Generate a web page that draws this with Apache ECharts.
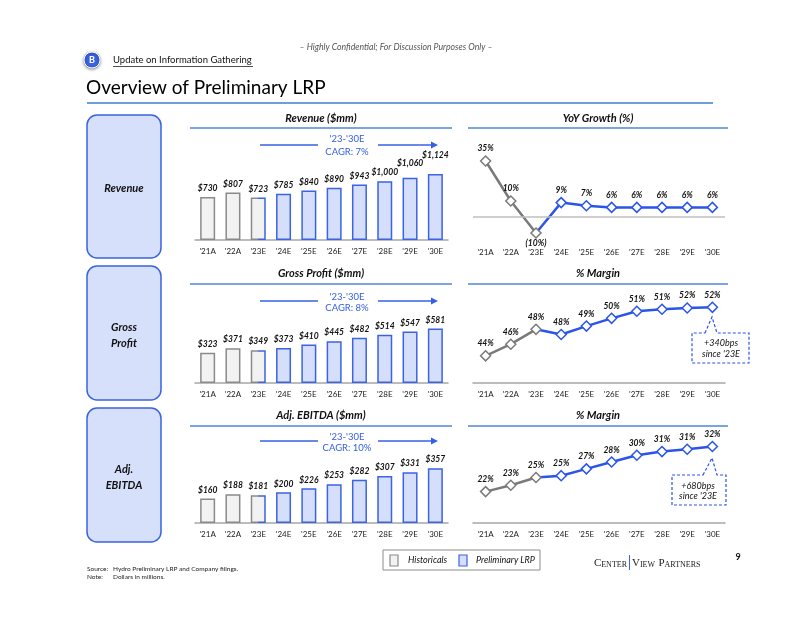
<!DOCTYPE html>
<html><head><meta charset="utf-8">
<script src="https://cdn.jsdelivr.net/npm/echarts@6/dist/echarts.min.js"></script>
<style>html,body{margin:0;padding:0;background:#fff}#c{width:800px;height:618px}</style>
</head><body><div id="c"></div>
<script>
const categories = ["'21A","'22A","'23E","'24E","'25E","'26E","'27E","'28E","'29E","'30E"];
const revenue = [730,807,723,785,840,890,943,1000,1060,1124];
const grossProfit = [323,371,349,373,410,445,482,514,547,581];
const adjEbitda = [160,188,181,200,226,253,282,307,331,357];
const yoyGrowth = [35,10,-10,9,7,6,6,6,6,6];
const grossMargin = [44.2,46.0,48.3,47.5,48.8,50.0,51.1,51.4,51.6,51.7];
const ebitdaMargin = [21.9,23.3,25.0,25.4,26.9,28.4,29.9,30.7,31.2,31.8];
const histCount = 3;
const cagrPeriod = "'23-'30E";
const cagrLabels = ["CAGR: 7%","CAGR: 8%","CAGR: 10%"];
const barTitles = ["Revenue ($mm)","Gross Profit ($mm)","Adj. EBITDA ($mm)"];
const lineTitles = ["YoY Growth (%)","% Margin","% Margin"];
const calloutTexts = [["+340bps","since '23E"],["+680bps","since '23E"]];

const F = 'Lato, "Open Sans", sans-serif';
const BLUE = '#2a55e8';
const BAR_BLUE = '#3b63e4';
const BAR_FILL = '#d5dffb';
const GRAY_B = '#8a8a8a';
const GRAY_F = '#f2f2f2';
const LINE_GRAY = '#7a7a7a';
const TXT = '#111';
const TITLE_LINE = '#4f86d9';

const chart = echarts.init(document.getElementById('c'));

// extra label lift (px) for crowded revenue labels, by panel and bar index
const labelLift = [{8:-6, 9:-10}, {}, {}];

const barPanels = [
  {vals: revenue, top:140, height:100, max:1700},
  {vals: grossProfit, top:289, height:94, max:1000},
  {vals: adjEbitda, top:431, height:92, max:600}
];
const linePanels = [
  {vals: yoyGrowth, top:153, height:88, min:-15, max:40, zero:true},
  {vals: grossMargin, top:286, height:97, min:40, max:55},
  {vals: ebitdaMargin, top:432, height:91, min:15, max:35}
];

const grids = [], xAxes = [], yAxes = [], series = [];
const axisLabel = {fontSize:8, color:'#222', fontFamily:F, margin:7};

function barStyle(k){
  if (k < histCount-1) return {color:GRAY_F, borderColor:GRAY_B, borderWidth:1.5};
  if (k === histCount-1) return {color:GRAY_F, borderWidth:1.5,
    borderColor: new echarts.graphic.LinearGradient(0,0,1,0,[
      {offset:0,color:GRAY_B},{offset:0.5,color:GRAY_B},{offset:0.5,color:BAR_BLUE},{offset:1,color:BAR_BLUE}])};
  return {color:BAR_FILL, borderColor:BAR_BLUE, borderWidth:1.5};
}

barPanels.forEach((p,i)=>{
  grids.push({left:195, width:253, top:p.top, height:p.height});
  xAxes.push({gridIndex:i, type:'category', data:categories, boundaryGap:true,
    axisLine:{show:true, lineStyle:{color:'#a6a6a6', width:1.5}}, axisTick:{show:false},
    axisLabel:axisLabel, splitLine:{show:false}});
  yAxes.push({gridIndex:i, type:'value', min:0, max:p.max, show:false, splitLine:{show:false}});
  series.push({type:'bar', xAxisIndex:i, yAxisIndex:i, barWidth:15,
    data: p.vals.map((v,k)=>{
      const d = {value:v, itemStyle:barStyle(k)};
      if (labelLift[i][k]) d.label = {offset:[0, labelLift[i][k]]};
      return d;
    }),
    label:{show:true, position:'top', distance:4, fontFamily:F, fontSize:8.5, fontWeight:'bold', fontStyle:'italic', color:TXT,
      formatter: q => '$' + q.value.toLocaleString('en-US')}});
});

linePanels.forEach((p,j)=>{
  const i = j + 3;
  grids.push({left:473, width:252, top:p.top, height:p.height});
  xAxes.push({gridIndex:i, type:'category', data:categories, boundaryGap:true,
    axisLine:{show:!p.zero, onZero:false, lineStyle:{color:'#a6a6a6', width:1.5}}, axisTick:{show:false},
    axisLabel:axisLabel, splitLine:{show:false}});
  yAxes.push({gridIndex:i, type:'value', min:p.min, max:p.max, show:false, splitLine:{show:false}});
  const fmt = q => { const v = q.value; return v < 0 ? '(' + Math.abs(Math.round(v)) + '%)' : Math.round(v) + '%'; };
  const lbl = {show:true, position:'top', distance:2, fontFamily:F, fontSize:8.5, fontWeight:'bold', fontStyle:'italic', color:TXT, formatter:fmt};
  const hist = p.vals.map((v,k)=> k < histCount ? (v < 0 ? {value:v, label:{position:'bottom', distance:0}} : v) : '-');
  const proj = p.vals.map((v,k)=> k < histCount-1 ? '-' : (k === histCount-1 ? {value:v, symbol:'none', label:{show:false}} : v));
  series.push({type:'line', xAxisIndex:i, yAxisIndex:i, z:2, data:proj, symbol:'diamond', symbolSize:10, showAllSymbol:true,
    lineStyle:{color:BLUE, width:2.5}, itemStyle:{color:'#fff', borderColor:BLUE, borderWidth:1.5}, label:lbl});
  const hs = {type:'line', xAxisIndex:i, yAxisIndex:i, z:3, data:hist, symbol:'diamond', symbolSize:10, showAllSymbol:true,
    lineStyle:{color:LINE_GRAY, width:2.5}, itemStyle:{color:'#fff', borderColor:LINE_GRAY, borderWidth:1.5}, label:lbl};
  if (p.zero) hs.markLine = {silent:true, symbol:['none','none'], label:{show:false},
    lineStyle:{color:'#bfbfbf', width:1.5, type:'solid'}, data:[{yAxis:0}]};
  series.push(hs);
});

// ---------- graphics ----------
const G = [];
function T(x,y,text,font,fill,align,extra){
  G.push(Object.assign({type:'text', x:x, y:y, z:20, silent:true,
    style:{text:text, font:font, fill:fill||TXT, textAlign:align||'left', textVerticalAlign:'middle'}}, extra||{}));
}
function L(x1,y1,x2,y2,stroke,w,dash){
  G.push({type:'line', z:20, silent:true, shape:{x1,y1,x2,y2}, style:{stroke, lineWidth:w||1, lineDash:dash||null}});
}

// header
T(396,47,'– Highly Confidential; For Discussion Purposes Only –','italic 8.7px '+F,'#555','center');
G.push({type:'circle', z:20, shape:{cx:92,cy:60,r:8}, style:{fill:'#3a63e0', stroke:'#fff', lineWidth:1, shadowBlur:3, shadowColor:'rgba(0,0,0,0.45)', shadowOffsetY:1}});
T(92,60,'B','bold 9px '+F,'#fff','center');
T(113,60,'Update on Information Gathering','9.5px '+F,TXT,'left');
L(113,66.5,253,66.5,'#222',0.8);
T(86,88,'Overview of Preliminary LRP','19px '+F,'#000','left');
L(87,103,713,103,'#6e9fd6',2);

// left boxes
const boxes = [
  {y:115, h:143, lines:['Revenue']},
  {y:266, h:134, lines:['Gross','Profit']},
  {y:408, h:134, lines:['Adj.','EBITDA']}
];
boxes.forEach(b=>{
  G.push({type:'rect', z:10, shape:{x:87, y:b.y, width:74, height:b.h, r:10}, style:{fill:'#d6e0fb', stroke:'#3a63e0', lineWidth:1.5}});
  const cy = b.y + b.h/2 + 2;
  if (b.lines.length === 1) T(124, cy, b.lines[0], 'italic bold 11px '+F, TXT, 'center');
  else { T(124, cy-8, b.lines[0], 'italic bold 11px '+F, TXT, 'center'); T(124, cy+8, b.lines[1], 'italic bold 11px '+F, TXT, 'center'); }
});

// panel titles
const titleY = [118, 273, 415];
const lineY = [128, 284, 426];
const cagrY = [[139,152,145],[297,308,301],[437,448,441]];
for (let i=0;i<3;i++){
  T(321, titleY[i], barTitles[i], 'italic bold 11px '+F, TXT, 'center');
  T(598, titleY[i], lineTitles[i], 'italic bold 11px '+F, TXT, 'center');
  L(190, lineY[i], 452, lineY[i], TITLE_LINE, 1.5);
  L(468, lineY[i], 728, lineY[i], TITLE_LINE, 1.5);
  T(347, cagrY[i][0], cagrPeriod, '9.5px '+F, '#3660e3', 'center');
  T(347, cagrY[i][1], cagrLabels[i], '9.5px '+F, '#3660e3', 'center');
  L(260, cagrY[i][2], 318, cagrY[i][2], '#3660e3', 1.5);
  L(378, cagrY[i][2], 432, cagrY[i][2], '#3660e3', 1.5);
  G.push({type:'polygon', z:20, shape:{points:[[431,cagrY[i][2]-3.5],[438,cagrY[i][2]],[431,cagrY[i][2]+3.5]]}, style:{fill:'#3660e3'}});
}

// callouts
const callouts = [
  {x1:692, x2:749, y1:333, y2:363, bx1:705, bx2:717, ax:712, ay:317, tx:721, t1:343, t2:354},
  {x1:672, x2:726, y1:475, y2:505, bx1:703, bx2:717, ax:712, ay:458, tx:698, t1:486, t2:496}
];
callouts.forEach((c,k)=>{
  G.push({type:'polygon', z:15, shape:{points:[[c.bx1,c.y1],[c.ax,c.ay],[c.bx2,c.y1],[c.x2,c.y1],[c.x2,c.y2],[c.x1,c.y2],[c.x1,c.y1]]},
    style:{fill:'#fff', stroke:BLUE, lineWidth:1.2, lineDash:[3,2]}});
  T(c.tx, c.t1, calloutTexts[k][0], 'italic 9px '+F, TXT, 'center');
  T(c.tx, c.t2, calloutTexts[k][1], 'italic 9px '+F, TXT, 'center');
});

// legend
G.push({type:'rect', z:10, shape:{x:383, y:550, width:157, height:20}, style:{fill:'#fff', stroke:'#8c8c8c', lineWidth:1}});
G.push({type:'rect', z:12, shape:{x:390, y:555, width:8, height:11}, style:{fill:GRAY_F, stroke:GRAY_B, lineWidth:1.2}});
T(408, 560.5, 'Historicals', 'italic 9px '+F, TXT, 'left');
G.push({type:'rect', z:12, shape:{x:459, y:555, width:8, height:11}, style:{fill:BAR_FILL, stroke:BAR_BLUE, lineWidth:1.2}});
T(476, 560.5, 'Preliminary LRP', 'italic 9px '+F, TXT, 'left');

// logo
const SER = '"Liberation Serif","DejaVu Serif",serif';
G.push({type:'text', z:20, x:627, y:569, style:{text:'{b|C}{s|ENTER}', textAlign:'right', textVerticalAlign:'bottom', fill:'#222',
  rich:{b:{fontSize:11, fontFamily:SER, verticalAlign:'bottom', fill:'#222'}, s:{fontSize:8, fontFamily:SER, verticalAlign:'bottom', fill:'#222'}}}});
L(629.5, 555, 629.5, 570, '#3a63e0', 1);
G.push({type:'text', z:20, x:632, y:569, style:{text:'{b|V}{s|IEW} {b|P}{s|ARTNERS}', textAlign:'left', textVerticalAlign:'bottom', fill:'#222',
  rich:{b:{fontSize:11, fontFamily:SER, verticalAlign:'bottom', fill:'#222'}, s:{fontSize:8, fontFamily:SER, verticalAlign:'bottom', fill:'#222'}}}});
T(738, 557, '9', 'bold 9px '+F, TXT, 'center');

// notes
T(87, 569, 'Source:', '6.5px '+F, '#222', 'left');
T(113, 569, 'Hydro Preliminary LRP and Company filings.', '6.5px '+F, '#222', 'left');
T(87, 577, 'Note:', '6.5px '+F, '#222', 'left');
T(113, 577, 'Dollars in millions.', '6.5px '+F, '#222', 'left');

chart.setOption({
  animation:false,
  backgroundColor:'#fff',
  grid:grids, xAxis:xAxes, yAxis:yAxes, series:series,
  graphic:{elements:G}
});
</script></body></html>
